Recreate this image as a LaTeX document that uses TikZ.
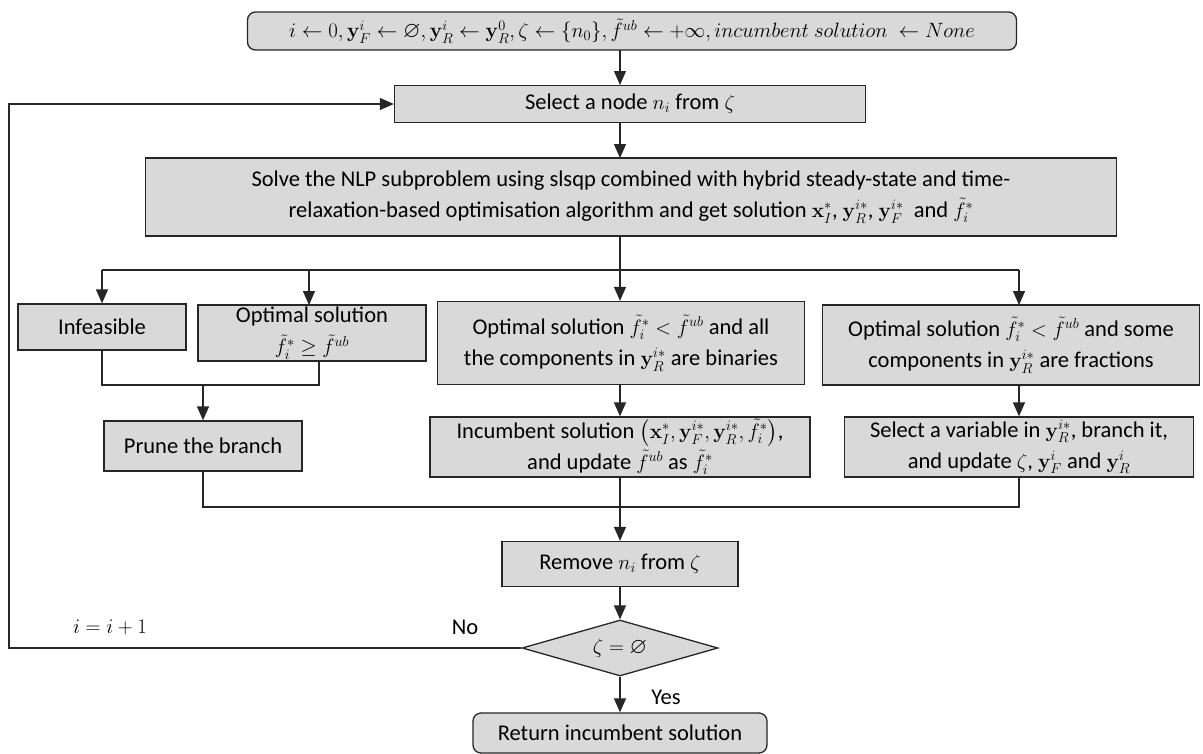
\documentclass[tikz,border=0pt]{standalone}
\usepackage{amsmath}
\usepackage{amssymb}
\usepackage[no-math]{fontspec}
\setmainfont{Carlito}
\usetikzlibrary{arrows.meta,shapes.geometric}

\begin{document}
\begin{tikzpicture}[x=1pt,y=-1pt,
	box/.style={draw=black!85,fill=black!15,line width=1.3pt,inner sep=0pt,align=center,font=\fontsize{22.5}{31}\selectfont},
	link/.style={draw=black!85,line width=1.3pt},
	go/.style={link,-{Triangle[width=12pt,length=14pt]}},
	lbl/.style={font=\fontsize{22.5}{30}\selectfont}]
	\useasboundingbox (0,0) rectangle (1203,753);

	\node[box,rounded corners=8pt,minimum width=769pt,minimum height=38pt] (init) at (632,31) {$i \leftarrow 0, \mathbf{y}_F^i \leftarrow \varnothing, \mathbf{y}_R^i \leftarrow \mathbf{y}_R^0, \zeta \leftarrow \{n_0\}, \tilde{f}^{ub} \leftarrow +\infty, incumbent~solution~\leftarrow None$};
	\node[box,minimum width=471pt,minimum height=37pt] (pick) at (630,104) {Select a node $n_i$ from $\zeta$};
	\node[box,minimum width=971pt,minimum height=78pt] (nlp) at (631,197) {Solve the NLP subproblem using slsqp combined with hybrid steady-state and time-\\relaxation-based optimisation algorithm and get solution $\mathbf{x}_I^*$, $\mathbf{y}_R^{i*}$, $\mathbf{y}_F^{i*}$~ and $\tilde{f}_i^*$};

	\node[box,minimum width=168pt,minimum height=46pt] (infeas) at (102,327) {Infeasible};
	\node[box,minimum width=228pt,minimum height=56pt] (worse) at (312,333) {Optimal solution\\$\tilde{f}_i^* \geq \tilde{f}^{ub}$};
	\node[box,minimum width=367pt,minimum height=83pt] (binary) at (621,343) {Optimal solution $\tilde{f}_i^* < \tilde{f}^{ub}$ and all\\the components in $\mathbf{y}_R^{i*}$ are binaries};
	\node[box,minimum width=377pt,minimum height=80pt] (frac) at (1011,345) {Optimal solution $\tilde{f}_i^* < \tilde{f}^{ub}$ and some\\components in $\mathbf{y}_R^{i*}$ are fractions};

	\node[box,minimum width=198pt,minimum height=50pt] (prune) at (203,446) {Prune the branch};
	\node[box,minimum width=380pt,minimum height=60pt] (update) at (620,447) {Incumbent solution $\left(\mathbf{x}_I^*, \mathbf{y}_F^{i*}, \mathbf{y}_R^{i*}, \tilde{f}_i^*\right)$,\\and update $\tilde{f}^{ub}$ as $\tilde{f}_i^*$};
	\node[box,minimum width=349pt,minimum height=60pt] (branch) at (1019,447) {Select a variable in $\mathbf{y}_R^{i*}$, branch it,\\and update $\zeta$, $\mathbf{y}_F^i$ and $\mathbf{y}_R^i$};

	\node[box,minimum width=236pt,minimum height=45pt] (remove) at (620,564) {Remove $n_i$ from $\zeta$};
	\node[box,diamond,aspect=3.5,minimum width=196pt,minimum height=56pt] (empty) at (620,648) {$\zeta = \varnothing$};
	\node[box,rounded corners=8pt,minimum width=294pt,minimum height=40pt] (ret) at (620,733) {Return incumbent solution};

	\coordinate (split) at (620,270);
	\coordinate (join1) at (203,385);
	\coordinate (join2) at (620,507);
	\coordinate (loop) at (9,648);

	\draw[go] (620,50) -- (620,85);
	\draw[go] (620,122) -- (620,158);
	\draw[go] (620,236) -- (binary.north -| split);
	\draw[link] (102,270) -- (1019,270);
	\draw[go] (102,270) -- (infeas.north);
	\draw[go] (309,270) -- (309,305);
	\draw[go] (1019,270) -- (1019,305);

	\draw[link] (infeas.south) -- (102,385) -- (319,385) -- (319,361);
	\draw[go] (join1) -- (prune.north);
	\draw[go] (binary.south -| 620,0) -- (update.north);
	\draw[go] (1019,385) -- (branch.north);

	\draw[link] (prune.south) -- (203,507) -- (1019,507) -- (branch.south);
	\draw[go] (update.south) -- (remove.north);
	\draw[go] (remove.south) -- (empty.north);
	\draw[go] (empty.south) -- (ret.north);
	\draw[go] (empty.west) -- (loop) -- (loop |- pick.west) -- (pick.west);

	\node[lbl] (inc) at (110,627) {$i = i + 1$};
	\node[lbl] (no) at (465,627) {No};
	\node[lbl] (yes) at (666,697) {Yes};
\end{tikzpicture}
\end{document}
